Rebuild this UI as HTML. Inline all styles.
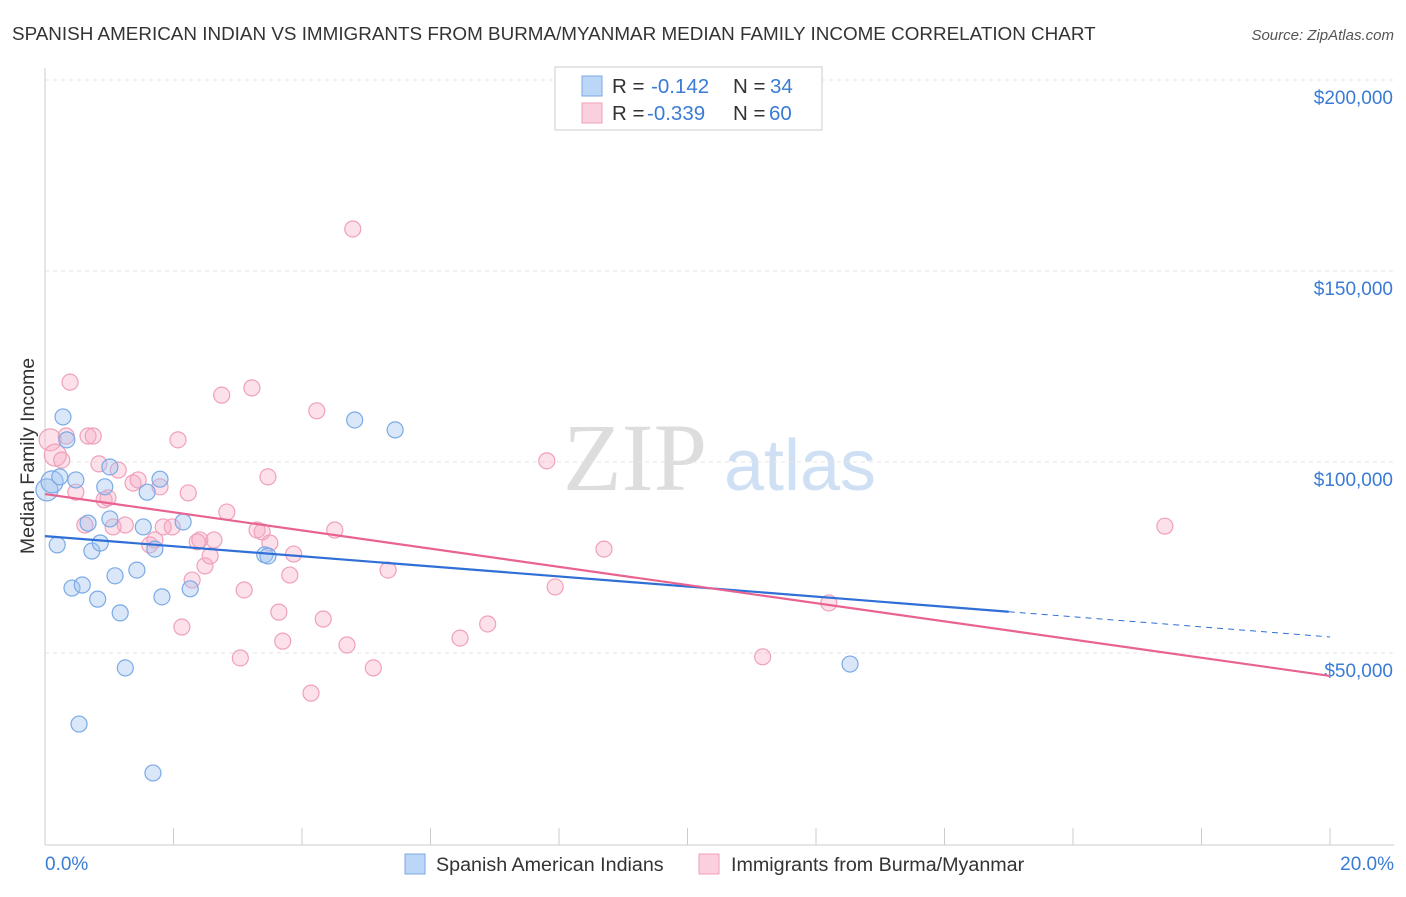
<!DOCTYPE html>
<html><head><meta charset="utf-8"><style>
body{margin:0;background:#fff;font-family:"Liberation Sans",sans-serif;}
svg text{font-family:"Liberation Sans",sans-serif;}
</style></head><body>
<svg id="c" width="1406" height="892" xmlns="http://www.w3.org/2000/svg">
<text x="12" y="40" font-size="18.85" fill="#333">SPANISH AMERICAN INDIAN VS IMMIGRANTS FROM BURMA/MYANMAR MEDIAN FAMILY INCOME CORRELATION CHART</text>
<text x="1394" y="40" font-size="15" fill="#555" text-anchor="end" font-style="italic">Source: ZipAtlas.com</text>
<text x="34" y="456" font-size="19.5" fill="#333" text-anchor="middle" transform="rotate(-90 34 456)">Median Family Income</text>
<g><text x="635" y="490" font-size="96" fill="#ddd" text-anchor="middle" style="font-family:'Liberation Serif',serif">ZIP</text><text x="800" y="490" font-size="72" fill="#cfe0f5" text-anchor="middle">atlas</text></g>
<g id="grid"></g><g id="axes"></g><g id="pts"></g><g id="trends"></g>
<g>
<rect x="555" y="67" width="267" height="63" fill="#fff" stroke="#ccc"/>
<rect x="582" y="76" width="20" height="20" fill="#bcd6f7" stroke="#7aaae6"/>
<text x="612" y="93" font-size="20.5" fill="#333">R =</text><text x="651" y="93" font-size="20.5" fill="#3a7bd5">-0.142</text>
<text x="733" y="93" font-size="20.5" fill="#333">N =</text><text x="770" y="93" font-size="20.5" fill="#3a7bd5">34</text>
<rect x="582" y="103" width="20" height="20" fill="#fbd0de" stroke="#f0a0bb"/>
<text x="612" y="120" font-size="20.5" fill="#333">R =</text><text x="647" y="120" font-size="20.5" fill="#3a7bd5">-0.339</text>
<text x="733" y="120" font-size="20.5" fill="#333">N =</text><text x="769" y="120" font-size="20.5" fill="#3a7bd5">60</text>
</g>
<g>
<rect x="405" y="854" width="20" height="20" fill="#bcd6f7" stroke="#7aaae6"/>
<text x="436" y="871" font-size="19.7" fill="#333">Spanish American Indians</text>
<rect x="699" y="854" width="20" height="20" fill="#fbd0de" stroke="#f0a0bb"/>
<text x="731" y="871" font-size="19.7" fill="#333">Immigrants from Burma/Myanmar</text>
</g>
</svg>
<script>
const yTicks=[50000,100000,150000,200000];
const yTickLabels=["$50,000","$100,000","$150,000","$200,000"];
const xTickLabels=["0.0%","20.0%"];
const blueX=[0.03,0.11,0.19,0.28,0.23,0.34,0.42,0.48,0.58,0.67,0.73,0.82,0.86,0.93,1.01,1.01,1.09,1.17,1.25,1.43,1.53,1.59,1.71,1.79,1.82,2.15,2.26,0.53,1.68,3.42,3.47,4.82,5.45,12.53];
const blueY=[92700,94800,78300,111800,96100,105800,67000,95300,67800,84000,76700,64100,78800,93500,98700,85100,70200,60500,46100,71700,83000,92100,77200,95500,64700,84300,66800,31400,18600,75700,75400,111000,108400,47100];
const pinkX=[0.08,0.16,0.26,0.39,0.33,0.48,0.62,0.67,0.75,0.84,0.92,0.98,1.06,1.14,1.25,1.37,1.45,1.63,1.71,1.79,1.84,1.98,2.07,2.13,2.23,2.29,2.41,2.49,2.57,2.63,2.75,2.83,3.04,3.10,3.22,3.30,3.38,3.47,3.50,3.64,3.70,3.81,3.87,4.14,4.23,4.33,4.51,4.70,4.79,5.11,5.34,6.46,6.89,7.81,7.94,8.70,11.17,12.20,17.43,2.37];
const pinkY=[105800,101800,100500,120900,106800,92100,83500,106800,106800,99500,90100,90600,83000,97900,83500,94500,95300,78300,79600,93500,83000,83000,105800,56800,91900,69100,79600,72800,75400,79600,117500,86900,48700,66500,119400,82200,81700,96100,78800,60700,53100,70400,75900,39500,113400,58900,82200,52100,161000,46100,71700,53900,57600,100300,67300,77200,49000,63100,83200,79100];
const blueTrend=[80600,54200]; const blueSolidEnd=15.0;
const pinkTrend=[91600,44000];
const X=v=>45+v/20*1285, Y=v=>844-v/50000*191;
const NS="http://www.w3.org/2000/svg";
function mk(p,t,a){const e=document.createElementNS(NS,t);for(const k in a)e.setAttribute(k,a[k]);document.getElementById(p).appendChild(e);return e;}
yTicks.forEach((t,i)=>{
 const l=mk('grid','line',{x1:45,x2:1394,y1:Y(t),y2:Y(t),stroke:'#e4e4e4','stroke-dasharray':'4,4'});
 
 
 const tx=mk('grid','text',{x:1393,y:Y(t)+24,'font-size':19,fill:'#3a7bd5','text-anchor':'end'});tx.textContent=yTickLabels[i];
 
 
});
mk('axes','line',{x1:45,x2:45,y1:68,y2:845,stroke:'#ccc'});
mk('axes','line',{x1:45,x2:1394,y1:845,y2:845,stroke:'#ccc'});
for(let i=0;i<=10;i++){mk('axes','line',{x1:X(i*2),x2:X(i*2),y1:828,y2:845,stroke:'#ccc'});}
const x0=mk('axes','text',{x:45,y:870,'font-size':19,fill:'#3a7bd5'});x0.textContent=xTickLabels[0];


const x1=mk('axes','text',{x:1394,y:870,'font-size':19,fill:'#3a7bd5','text-anchor':'end'});x1.textContent=xTickLabels[1];


function pts(xs,ys,f,s,n){xs.forEach((x,i)=>{const c=mk('pts','circle',{cx:X(x),cy:Y(ys[i]),r:i<2?11:8,fill:f,stroke:s,'stroke-width':1.2});
 
 });}
pts(pinkX,pinkY,'rgba(245,170,195,0.35)','#f0a0bb','pink');
pts(blueX,blueY,'rgba(160,196,240,0.4)','#7aaae6','blue');
const bv=x=>blueTrend[0]+(blueTrend[1]-blueTrend[0])*x/20;
let t=mk('trends','line',{x1:X(0),y1:Y(bv(0)),x2:X(blueSolidEnd),y2:Y(bv(blueSolidEnd)),stroke:'#2f6fd6','stroke-width':2.2});


t=mk('trends','line',{x1:X(blueSolidEnd),y1:Y(bv(blueSolidEnd)),x2:X(20),y2:Y(bv(20)),stroke:'#2f6fd6','stroke-width':1,'stroke-dasharray':'6,5'});


t=mk('trends','line',{x1:X(0),y1:Y(pinkTrend[0]),x2:X(20),y2:Y(pinkTrend[1]),stroke:'#e8638f','stroke-width':2.2});


</script>
</body></html>
